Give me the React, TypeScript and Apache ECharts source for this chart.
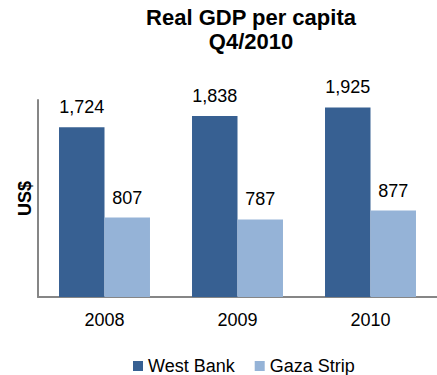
import React, { useEffect, useRef } from "react";
import * as echarts from "echarts";

const years = ["2008", "2009", "2010"];
const westBank = [1724, 1838, 1925];
const gazaStrip = [807, 787, 877];
const seriesNames = ["West Bank", "Gaza Strip"];
const titleLines = ["Real GDP per capita", "Q4/2010"];
const yAxisName = "US$";

const FONT = "Liberation Sans, Arial, sans-serif";

export default function App() {
  const ref = useRef<HTMLDivElement>(null);
  useEffect(() => {
    if (!ref.current) return;
    const chart = echarts.init(ref.current, null, { renderer: "svg" });
    const labelCfg = {
      show: true,
      position: "top" as const,
      distance: 11,
      color: "#000",
      fontSize: 18,
      fontFamily: FONT,
      formatter: (p: any) => Number(p.value).toLocaleString("en-US"),
    };
    chart.setOption({
      animation: false,
      textStyle: { fontFamily: FONT },
      title: {
        text: titleLines.join("\n"),
        left: 246,
        top: 0,
        textAlign: "center",
        textStyle: {
          fontSize: 22,
          fontWeight: "bold",
          color: "#000",
          fontFamily: FONT,
          lineHeight: 24,
        },
      },
      legend: {
        data: seriesNames,
        left: 128,
        top: 352,
        icon: "rect",
        itemWidth: 10,
        itemHeight: 10,
        itemGap: 20,
        textStyle: { fontSize: 18, color: "#000", fontFamily: FONT },
      },
      grid: { left: 38, top: 100, width: 403, height: 197, containLabel: false },
      xAxis: {
        type: "category",
        data: years,
        axisLine: { lineStyle: { color: "#868686", width: 2 } },
        axisTick: { show: false },
        axisLabel: { fontSize: 18, color: "#000", margin: 14, fontFamily: FONT },
      },
      yAxis: {
        type: "value",
        min: 0,
        max: 2000,
        name: yAxisName,
        nameLocation: "middle",
        nameGap: 4,
        nameTextStyle: { fontSize: 18, fontWeight: "bold", color: "#000", fontFamily: FONT },
        axisLine: { show: true, lineStyle: { color: "#868686", width: 2 } },
        axisTick: { show: false },
        axisLabel: { show: false },
        splitLine: { show: false },
      },
      series: [
        {
          name: seriesNames[0],
          type: "bar",
          data: westBank,
          barGap: "0%",
          barCategoryGap: "31.6%",
          itemStyle: { color: "#376092" },
          label: labelCfg,
        },
        {
          name: seriesNames[1],
          type: "bar",
          data: gazaStrip,
          itemStyle: { color: "#95B3D7" },
          label: labelCfg,
        },
      ],
    });
    return () => chart.dispose();
  }, []);
  return (
    <div
      ref={ref}
      style={{ position: "absolute", left: 0, top: 0, width: 437, height: 375, background: "#fff" }}
    />
  );
}
